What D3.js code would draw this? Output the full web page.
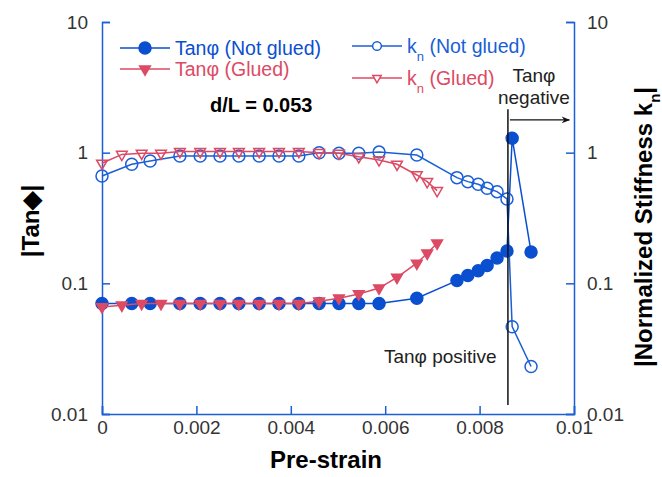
<!DOCTYPE html>
<html>
<head>
<meta charset="utf-8">
<script src="https://cdn.jsdelivr.net/npm/d3@7"></script>
<style>
  body { margin: 0; background: #fff; }
  text { font-family: "Liberation Sans", Arial, sans-serif; }
</style>
</head>
<body>
<div id="chart"></div>
<script>
// pre-strain values (not glued series)
var strainNotGlued = [0, 0.00063, 0.00102, 0.00165, 0.00208, 0.0025, 0.0029, 0.00333, 0.00375, 0.00417,
  0.0046, 0.00502, 0.00544, 0.00587, 0.00667, 0.00752, 0.00775, 0.00797, 0.00816, 0.00837, 0.00858, 0.00869, 0.00909]
var tanNotGlued = [0.07, 0.07, 0.07, 0.07, 0.07, 0.07, 0.07, 0.07, 0.07, 0.07,
  0.07, 0.07, 0.07, 0.07, 0.077, 0.105, 0.115, 0.125, 0.137, 0.156, 0.177, 1.29, 0.174]
var knNotGlued = [0.663, 0.815, 0.864, 0.944, 0.944, 0.944, 0.944, 0.944, 0.944, 0.944,
  1.0, 0.99, 0.99, 1.01, 0.96, 0.644, 0.60, 0.573, 0.534, 0.503, 0.442, 0.0466, 0.0231]

// pre-strain values (glued series)
var strainGlued = [0, 0.00042, 0.00084, 0.00125, 0.00165, 0.00208, 0.0025, 0.0029, 0.00333, 0.00375,
  0.00417, 0.0046, 0.00502, 0.00544, 0.00587, 0.00625, 0.00667, 0.00689, 0.0071]
var tanGlued = [0.066, 0.068, 0.07, 0.07, 0.07, 0.07, 0.07, 0.07, 0.07, 0.07,
  0.07, 0.073, 0.077, 0.083, 0.092, 0.111, 0.1425, 0.17, 0.203]
var knGlued = [0.83, 0.97, 0.99, 0.99, 1.02, 1.02, 1.02, 1.02, 1.02, 1.02,
  1.02, 1.0, 0.99, 0.93, 0.88, 0.815, 0.675, 0.60, 0.512]

var xTicks = [0, 0.002, 0.004, 0.006, 0.008, 0.01]
var yTicks = [0.01, 0.1, 1, 10]
var legendLabels = ["Tan\u03c6 (Not glued)", "Tan\u03c6 (Glued)", "k", "k"]
var legendSuffix = ["", "", " (Not glued)", " (Glued)"]

// where tan phi changes sign
var signChange = 0.0086

var blue = "#1a5fd6", blueFill = "#0a4fcf", red = "#dc4a64"

var margin = {top: 22, right: 88, bottom: 63, left: 102},
    width = 662 - margin.left - margin.right,
    height = 477 - margin.top - margin.bottom

var x = d3.scaleLinear().domain([0, 0.01]).range([0, width])
var y = d3.scaleLog().domain([0.01, 10]).range([height, 0])

var svg = d3.select("#chart")
  .append("svg")
  .attr("width", 662)
  .attr("height", 477)
  .append("g")
  .attr("transform", "translate(" + margin.left + "," + margin.top + ")")

var fmt = d3.format("~g")

function styleAxis(g) {
  g.attr("font-size", 19).attr("font-family", "Liberation Sans, Arial, sans-serif")
  g.select(".domain").attr("stroke", blue).attr("stroke-width", 1.5)
  g.selectAll(".tick line").attr("stroke", blue).attr("stroke-width", 1.5)
  g.selectAll(".tick text").attr("fill", "#333")
}

svg.append("g")
  .attr("transform", "translate(0," + height + ")")
  .call(d3.axisBottom(x).tickValues(xTicks).tickFormat(fmt).tickSize(-8).tickPadding(7))
  .call(styleAxis)

svg.append("g")
  .call(d3.axisLeft(y).tickValues(yTicks).tickFormat(fmt).tickSize(-8).tickPadding(14))
  .call(styleAxis)

svg.append("g")
  .attr("transform", "translate(" + width + ",0)")
  .call(d3.axisRight(y).tickValues(yTicks).tickFormat(fmt).tickSize(-8).tickPadding(13))
  .call(styleAxis)

// axis titles
svg.append("text")
  .attr("x", width / 2 - 12)
  .attr("y", height + 54)
  .attr("text-anchor", "middle")
  .style("font-size", "24px")
  .style("font-weight", "bold")
  .text("Pre-strain")

svg.append("text")
  .attr("transform", "translate(" + (39 - margin.left) + "," + (y(0.3)) + ") rotate(-90)")
  .attr("text-anchor", "middle")
  .style("font-size", "24px")
  .style("font-weight", "bold")
  .text("|Tan\u25c6|")

var rt = svg.append("text")
  .attr("transform", "translate(" + (width + 78) + "," + (y(0.27)) + ") rotate(-90)")
  .attr("text-anchor", "middle")
  .style("font-size", "24px")
  .style("font-weight", "bold")
rt.append("tspan").text("|Normalized Stiffness k")
rt.append("tspan").attr("dy", 8).style("font-size", "15px").text("n")
rt.append("tspan").attr("dy", -8).text("|")

function makeSeries(xs, ys) {
  return xs.map(function(d, i) { return {x: d, y: ys[i]} })
}

var drawLine = d3.line()
  .x(function(d) { return x(d.x) })
  .y(function(d) { return y(d.y) })

var circle = d3.symbol(d3.symbolCircle, 113)
var triangle = d3.symbol(d3.symbolTriangle, 50)

function addSeries(data, color, shape, filled) {
  svg.append("path")
    .datum(data)
    .attr("fill", "none")
    .attr("stroke", color)
    .attr("stroke-width", 1.5)
    .attr("d", drawLine)
  svg.append("g").selectAll("path")
    .data(data)
    .enter().append("path")
    .attr("d", shape)
    .attr("transform", function(d) {
      return "translate(" + x(d.x) + "," + y(d.y) + ")" + (shape === triangle ? " rotate(180)" : "")
    })
    .attr("fill", filled ? color : "none")
    .attr("stroke", color)
    .attr("stroke-width", 1.5)
}

addSeries(makeSeries(strainNotGlued, knNotGlued), blue, circle, false)
addSeries(makeSeries(strainGlued, knGlued), red, triangle, false)
addSeries(makeSeries(strainNotGlued, tanNotGlued), blueFill, circle, true)
addSeries(makeSeries(strainGlued, tanGlued), red, triangle, true)

// sign change line and arrow
svg.append("defs").append("marker")
  .attr("id", "arrow")
  .attr("viewBox", "0 0 10 10")
  .attr("refX", 9).attr("refY", 5)
  .attr("markerWidth", 9).attr("markerHeight", 7)
  .attr("orient", "auto")
  .append("path")
  .attr("d", "M0,1L10,5L0,9L3,5Z")
  .attr("fill", "#111")

svg.append("line")
  .attr("x1", x(signChange)).attr("x2", x(signChange))
  .attr("y1", y(2.15)).attr("y2", y(0.0117))
  .attr("stroke", "#111")
  .attr("stroke-width", 1.5)

svg.append("line")
  .attr("x1", x(signChange) + 2).attr("x2", x(0.0099))
  .attr("y1", y(1.78)).attr("y2", y(1.78))
  .attr("stroke", "#111")
  .attr("stroke-width", 1.2)
  .attr("marker-end", "url(#arrow)")

svg.append("text")
  .attr("x", x(0.00915)).attr("y", 60)
  .attr("text-anchor", "middle")
  .style("font-size", "19px").attr("fill", "#222")
  .text("Tan\u03c6")
svg.append("text")
  .attr("x", x(0.00915)).attr("y", 82)
  .attr("text-anchor", "middle")
  .style("font-size", "19px").attr("fill", "#222")
  .text("negative")

svg.append("text")
  .attr("x", x(0.00836)).attr("y", 341)
  .attr("text-anchor", "end")
  .style("font-size", "19px").attr("fill", "#222")
  .text("Tan\u03c6 positive")

svg.append("text")
  .attr("x", 108).attr("y", 90)
  .style("font-size", "20px")
  .style("font-weight", "bold")
  .text("d/L = 0.053")

// legend
var legendPos = [[18, 26], [18, 47], [250, 24], [250, 56]]
var legendShapes = [circle, triangle, d3.symbol(d3.symbolCircle, 60), d3.symbol(d3.symbolTriangle, 30)]
var legendColors = [blueFill, red, blue, red]
var legendFilled = [true, true, false, false]

legendPos.forEach(function(p, i) {
  var lg = svg.append("g").attr("transform", "translate(" + p[0] + "," + p[1] + ")")
  lg.append("line")
    .attr("x1", 0).attr("x2", 50)
    .attr("stroke", legendColors[i]).attr("stroke-width", 1.5)
  lg.append("path")
    .attr("d", legendShapes[i])
    .attr("transform", "translate(25,0)" + (i % 2 === 1 ? " rotate(180)" : ""))
    .attr("fill", legendFilled[i] ? legendColors[i] : "#fff")
    .attr("stroke", legendColors[i]).attr("stroke-width", 1.5)
  var t = lg.append("text")
    .attr("x", 55).attr("y", 7)
    .style("font-size", "19.5px")
    .attr("fill", legendColors[i])
  t.append("tspan").text(legendLabels[i])
  if (legendSuffix[i]) {
    t.append("tspan").attr("dy", 8).style("font-size", "13px").text("n")
    t.append("tspan").attr("dy", -8).text(legendSuffix[i])
  }
})
</script>
</body>
</html>
